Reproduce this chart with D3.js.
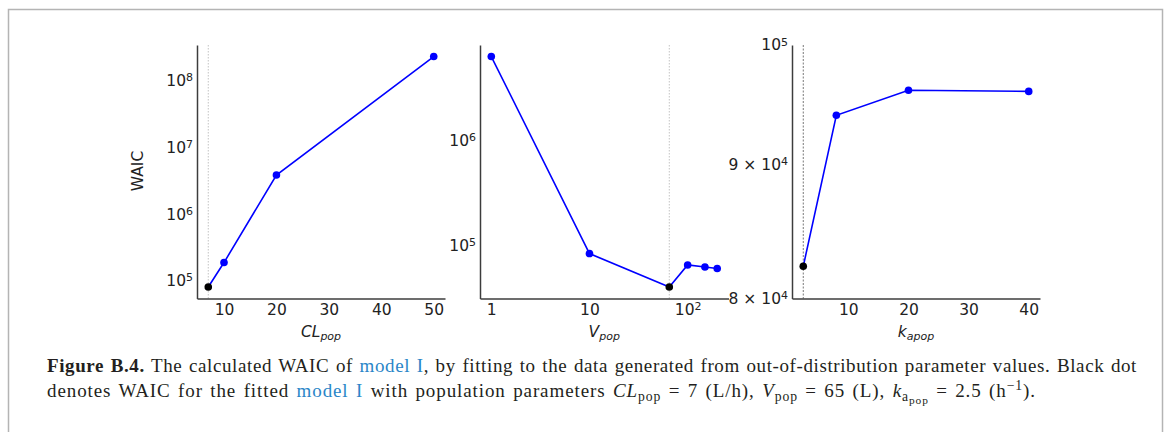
<!DOCTYPE html>
<html>
<head>
<meta charset="utf-8">
<script src="https://cdn.jsdelivr.net/npm/d3@7"></script>
<style>
  html, body { margin: 0; padding: 0; background: #fff; }
  svg { display: block; }
</style>
</head>
<body>
<svg id="fig" width="1168" height="432"></svg>
<script>
// WAIC obtained when refitting with out-of-distribution population parameters
const clPop = [7, 10, 20, 50];
const clWaic = [8.13e4, 1.89e5, 3.88e6, 2.32e8];
const clFit = 7;

const vPop = [1, 10, 65, 100, 150, 200];
const vWaic = [6.19e6, 8.47e4, 4.09e4, 6.61e4, 6.33e4, 6.11e4];
const vFit = 65;

const kaPop = [2.5, 8, 20, 40];
const kaWaic = [8.23e4, 9.40e4, 9.61e4, 9.60e4];
const kaFit = 2.5;

// tick values per panel
const clXTicks = [10, 20, 30, 40, 50];
const clYTicks = [1e5, 1e6, 1e7, 1e8];
const vXTicks = [1, 10, 100];
const vYTicks = [1e5, 1e6];
const kaXTicks = [10, 20, 30, 40];
const kaYTicks = [8e4, 9e4, 1e5];
const kaYLimits = [8e4, 1e5];

const svg = d3.select("#fig");
const FONT = "'DejaVu Sans', sans-serif";
const SERIF = "'Liberation Serif', 'Times New Roman', serif";
const TICK_FS = 15.5;
const SUP_FS = 11;

// frame around the figure
svg.append("rect")
  .attr("x", 8.5).attr("y", 9.5)
  .attr("width", 1154).attr("height", 440)
  .attr("fill", "none").attr("stroke", "#b4b4b4").attr("stroke-width", 1.5);

function padLinear(vals) {
  const [a, b] = d3.extent(vals);
  const m = (b - a) * 0.05;
  return [a - m, b + m];
}
function padLog(vals) {
  const [a, b] = d3.extent(vals).map(Math.log10);
  const m = (b - a) * 0.05;
  return [Math.pow(10, a - m), Math.pow(10, b + m)];
}

// split a tick value into base text and superscript exponent
function tickParts(v, kind) {
  if (kind === "plain") return { base: String(v) };
  if (kind === "pow") {
    const e = Math.round(Math.log10(v));
    if (e === 0) return { base: "1" };
    if (e === 1) return { base: "10" };
    return { base: "10", sup: String(e) };
  }
  // "pow-all": always 10^e, or m × 10^e
  const e = Math.floor(Math.log10(v) + 1e-9);
  const m = Math.round(v / Math.pow(10, e));
  if (m === 1) return { base: "10", sup: String(e) };
  return { base: m + " \u00d7 10", sup: String(e) };
}

function styleTicks(g, kind) {
  g.selectAll(".tick text").each(function (d) {
    const t = d3.select(this);
    const p = tickParts(d, kind);
    t.text(null);
    t.append("tspan").text(p.base);
    if (p.sup) {
      t.append("tspan").attr("dy", "-0.45em").attr("font-size", SUP_FS + "px").text(p.sup);
    }
  });
  g.selectAll(".tick text").attr("fill", "#222").attr("font-family", FONT).attr("font-size", TICK_FS);
  g.select(".domain").attr("stroke", "#3c3c3c").attr("stroke-width", 1.5);
}

function panel(cfg) {
  const { left, right, top, bottom } = cfg;
  const g = svg.append("g");
  const x = cfg.xLog
    ? d3.scaleLog().domain(padLog(cfg.xs)).range([left, right])
    : d3.scaleLinear().domain(padLinear(cfg.xs)).range([left, right]);
  const y = d3.scaleLog().domain(cfg.yDomain || padLog(cfg.ys)).range([bottom, top]);

  // vertical marker at the fitted parameter value
  g.append("line")
    .attr("x1", x(cfg.fit)).attr("x2", x(cfg.fit))
    .attr("y1", top).attr("y2", bottom)
    .attr("stroke", cfg.markColor).attr("stroke-width", cfg.markWidth)
    .attr("stroke-dasharray", cfg.markDash);

  const xa = g.append("g").attr("transform", `translate(0,${bottom})`)
    .call(d3.axisBottom(x).tickValues(cfg.xTicks).tickSize(0).tickSizeOuter(0).tickPadding(5).tickFormat(() => ""));
  styleTicks(xa, cfg.xKind);

  const ya = g.append("g").attr("transform", `translate(${left},0)`)
    .call(d3.axisLeft(y).tickValues(cfg.yTicks).tickSize(0).tickSizeOuter(0).tickPadding(4).tickFormat(() => ""));
  styleTicks(ya, cfg.yKind);

  const pts = cfg.xs.map((v, i) => ({ x: v, y: cfg.ys[i], fit: v === cfg.fit }));

  g.append("path")
    .datum(pts)
    .attr("fill", "none").attr("stroke", "#0000ff").attr("stroke-width", 1.6)
    .attr("d", d3.line().x(d => x(d.x)).y(d => y(d.y)));

  g.selectAll("circle.pt")
    .data(pts)
    .join("circle")
    .attr("class", "pt")
    .attr("cx", d => x(d.x)).attr("cy", d => y(d.y)).attr("r", 3.8)
    .attr("fill", d => d.fit ? "#000" : "#0000ff");

  // axis label: italic symbol with italic subscript
  const lab = g.append("text")
    .attr("x", (left + right) / 2).attr("y", 337)
    .attr("text-anchor", "middle")
    .attr("font-family", FONT).attr("font-size", TICK_FS).attr("font-style", "italic")
    .attr("fill", "#222");
  lab.append("tspan").text(cfg.sym);
  lab.append("tspan").attr("dy", 3).attr("font-size", SUP_FS).text(cfg.sub);
}

const TOP = 45, BOTTOM = 298.5;

panel({
  left: 197, right: 445, top: TOP, bottom: BOTTOM,
  xs: clPop, ys: clWaic, fit: clFit, xLog: false,
  xTicks: clXTicks, yTicks: clYTicks, xKind: "plain", yKind: "pow-all",
  markColor: "#c4c4c4", markWidth: 1, markDash: "1.5,1.5",
  sym: "CL", sub: "pop"
});

panel({
  left: 480, right: 728.5, top: TOP, bottom: BOTTOM,
  xs: vPop, ys: vWaic, fit: vFit, xLog: true,
  xTicks: vXTicks, yTicks: vYTicks, xKind: "pow", yKind: "pow-all",
  markColor: "#c4c4c4", markWidth: 1, markDash: "1.5,1.5",
  sym: "V", sub: "pop"
});

panel({
  left: 792, right: 1040, top: TOP, bottom: BOTTOM,
  xs: kaPop, ys: kaWaic, fit: kaFit, xLog: false, yDomain: kaYLimits,
  xTicks: kaXTicks, yTicks: kaYTicks, xKind: "plain", yKind: "pow-all",
  markColor: "#555", markWidth: 0.8, markDash: "2,1.5",
  sym: "k", sub: "apop"
});

// shared y-axis title
svg.append("text")
  .attr("transform", "translate(143,171) rotate(-90)")
  .attr("text-anchor", "middle")
  .attr("font-family", FONT).attr("font-size", TICK_FS).attr("fill", "#222")
  .text("WAIC");

// caption
const LINK = "#2a86c8";
const INK = "#231f20";
const CAP_FS = 19;
const LINE1_WIDTH = 1090;
const LINE2_WIDTH = 989;

function captionLine(y, parts, fs, tracking) {
  const t = svg.append("text").attr("class", "cap").attr("x", 47).attr("y", y)
    .attr("font-family", SERIF).attr("font-size", fs + "px").attr("fill", INK)
    .style("white-space", "pre").style("letter-spacing", tracking + "px");
  parts.forEach(p => {
    const s = t.append("tspan").text(p.t);
    if (p.b) s.attr("font-weight", "bold");
    if (p.i) s.attr("font-style", "italic");
    if (p.c) s.attr("fill", p.c);
    if (p.dy) s.attr("dy", p.dy);
    if (p.fs) s.attr("font-size", p.fs + "px");
  });
  return t;
}

const fs = CAP_FS, sub = fs * 0.72, subsub = fs * 0.6;
const line1 = captionLine(372, [
  { t: "Figure B.4.", b: true },
  { t: " The calculated WAIC of " },
  { t: "model I", c: LINK },
  { t: ", by fitting to the data generated from out-of-distribution parameter values. Black dot" }
], fs, 0.6);
const line2 = captionLine(397, [
  { t: "denotes WAIC for the fitted " },
  { t: "model I", c: LINK },
  { t: " with population parameters " },
  { t: "CL", i: true },
  { t: "pop", fs: sub, dy: fs * 0.22 },
  { t: " = 7 (L/h), ", dy: -fs * 0.22 },
  { t: "V", i: true },
  { t: "pop", fs: sub, dy: fs * 0.22 },
  { t: " = 65 (L), ", dy: -fs * 0.22 },
  { t: "k", i: true },
  { t: "a", fs: sub, dy: fs * 0.22 },
  { t: "pop", fs: subsub, dy: fs * 0.14 },
  { t: " = 2.5 (h", dy: -fs * 0.36 },
  { t: "\u22121", fs: sub, dy: -fs * 0.38 },
  { t: ").", dy: fs * 0.38 }
], fs, 0.9);

// justify each caption line to its column width by adjusting word gaps
function justify(line, target) {
  line.style("word-spacing", null);
  const w = line.node().getComputedTextLength();
  if (!(w > 100)) return;
  const gaps = line.text().split(" ").length - 1;
  const extra = Math.max(-1.5, Math.min(6, (target - w) / gaps));
  line.style("word-spacing", extra + "px");
}
function fitCaption() {
  justify(line1, LINE1_WIDTH);
  justify(line2, LINE2_WIDTH);
}
fitCaption();
if (document.fonts && document.fonts.ready) document.fonts.ready.then(fitCaption);
</script>
</body>
</html>
